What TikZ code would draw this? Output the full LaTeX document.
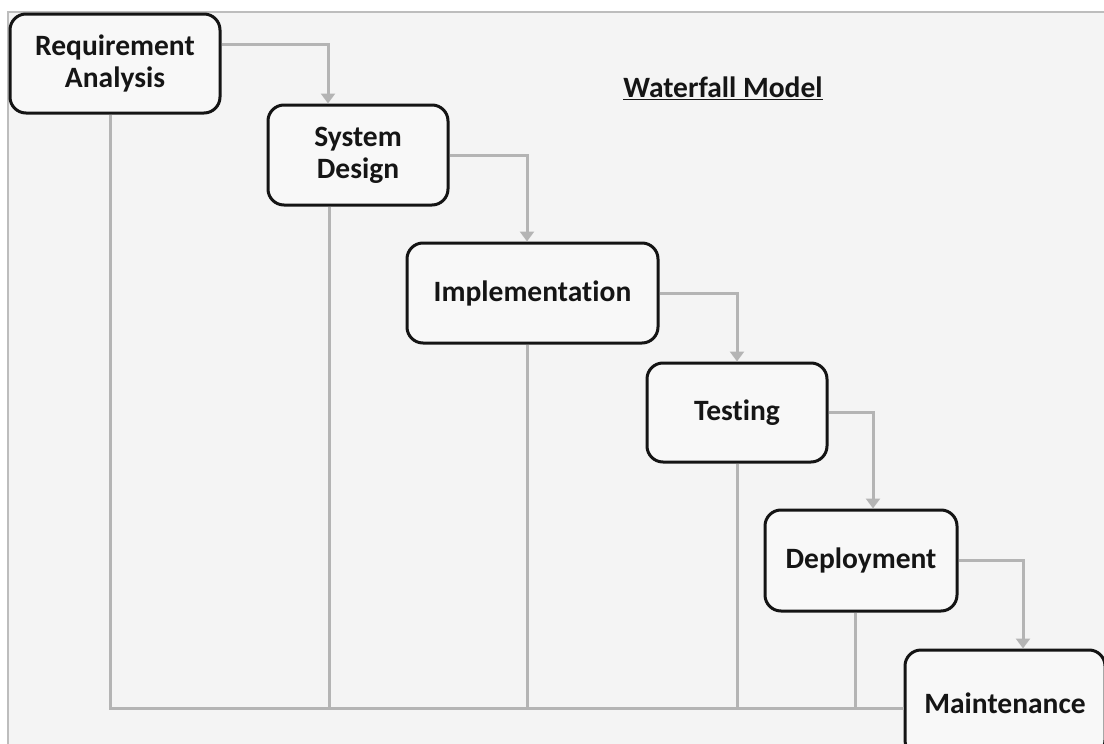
\documentclass[tikz,border=0pt]{standalone}
\usepackage{fontspec}
\setmainfont{Carlito}[Ligatures={NoCommon}]
\usetikzlibrary{arrows.meta,calc}
\definecolor{bgcol}{HTML}{F4F4F4}
\definecolor{framecol}{HTML}{BDBDBD}
\definecolor{linecol}{HTML}{B4B4B4}
\definecolor{boxfill}{HTML}{F8F8F8}
\definecolor{txtcol}{HTML}{151515}
\tikzset{
  x=1pt, y=1pt,
  stage/.style={draw=black!92, line width=3pt, rounded corners=16pt, fill=boxfill,
    text=txtcol, align=center, font=\bfseries\fontsize{29.5}{32}\selectfont,
    inner sep=0pt},
  flow/.style={draw=linecol, line width=3pt, -{Triangle[width=14pt,length=10pt]}},
  back/.style={draw=linecol, line width=3pt}
}
\begin{document}
\begin{tikzpicture}
\useasboundingbox (0,0) rectangle (1104,-744);
\fill[bgcol] (8,-12) rectangle (1104,-744);
\draw[framecol, line width=2pt] (8,-744) -- (8,-12) -- (1104,-12);
\begin{scope}
\clip (0,0) rectangle (1104,-744);
\node[stage, minimum width=210pt, minimum height=99pt] (req) at (115,-63.5) {Requirement\\Analysis};
\node[stage, minimum width=180pt, minimum height=100pt] (sys) at (358,-155) {System\\Design};
\node[stage, minimum width=251pt, minimum height=100pt] (impl) at (532.5,-293) {Implementation};
\node[stage, minimum width=180pt, minimum height=99pt] (test) at (737,-412.5) {Testing};
\node[stage, minimum width=192pt, minimum height=101pt] (dep) at (861,-560.5) {Deployment};
\node[stage, minimum width=200pt, minimum height=106pt] (maint) at (1005,-703) {Maintenance};
\end{scope}
\node[text=txtcol, font=\bfseries\fontsize{29.5}{32}\selectfont] (title) at (723,-88) {\underline{Waterfall Model}};
% forward arrows
\draw[flow] ($(req.east)+(0,19.5)$) -| ($(sys.north)+(-30,0)$);
\draw[flow] (sys.east) -| ($(impl.north)+(-5.5,0)$);
\draw[flow] (impl.east) -| (test.north);
\draw[flow] (test.east) -| ($(dep.north)+(12,0)$);
\draw[flow] (dep.east) -| ($(maint.north)+(18,0)$);
% feedback lines
\coordinate (base) at (0,-708);
\coordinate (rq) at ($(req.south)+(-5,0)$);
\coordinate (sy) at ($(sys.south)+(-29,0)$);
\coordinate (im) at ($(impl.south)+(-5.5,0)$);
\coordinate (dp) at ($(dep.south)+(-6,0)$);
\draw[back] (rq) |- (base -| maint.west);
\draw[back] (sy) -- (sy |- base);
\draw[back] (im) -- (im |- base);
\draw[back] (test.south) -- (test.south |- base);
\draw[back] (dp) -- (dp |- base);
\end{tikzpicture}
\end{document}
